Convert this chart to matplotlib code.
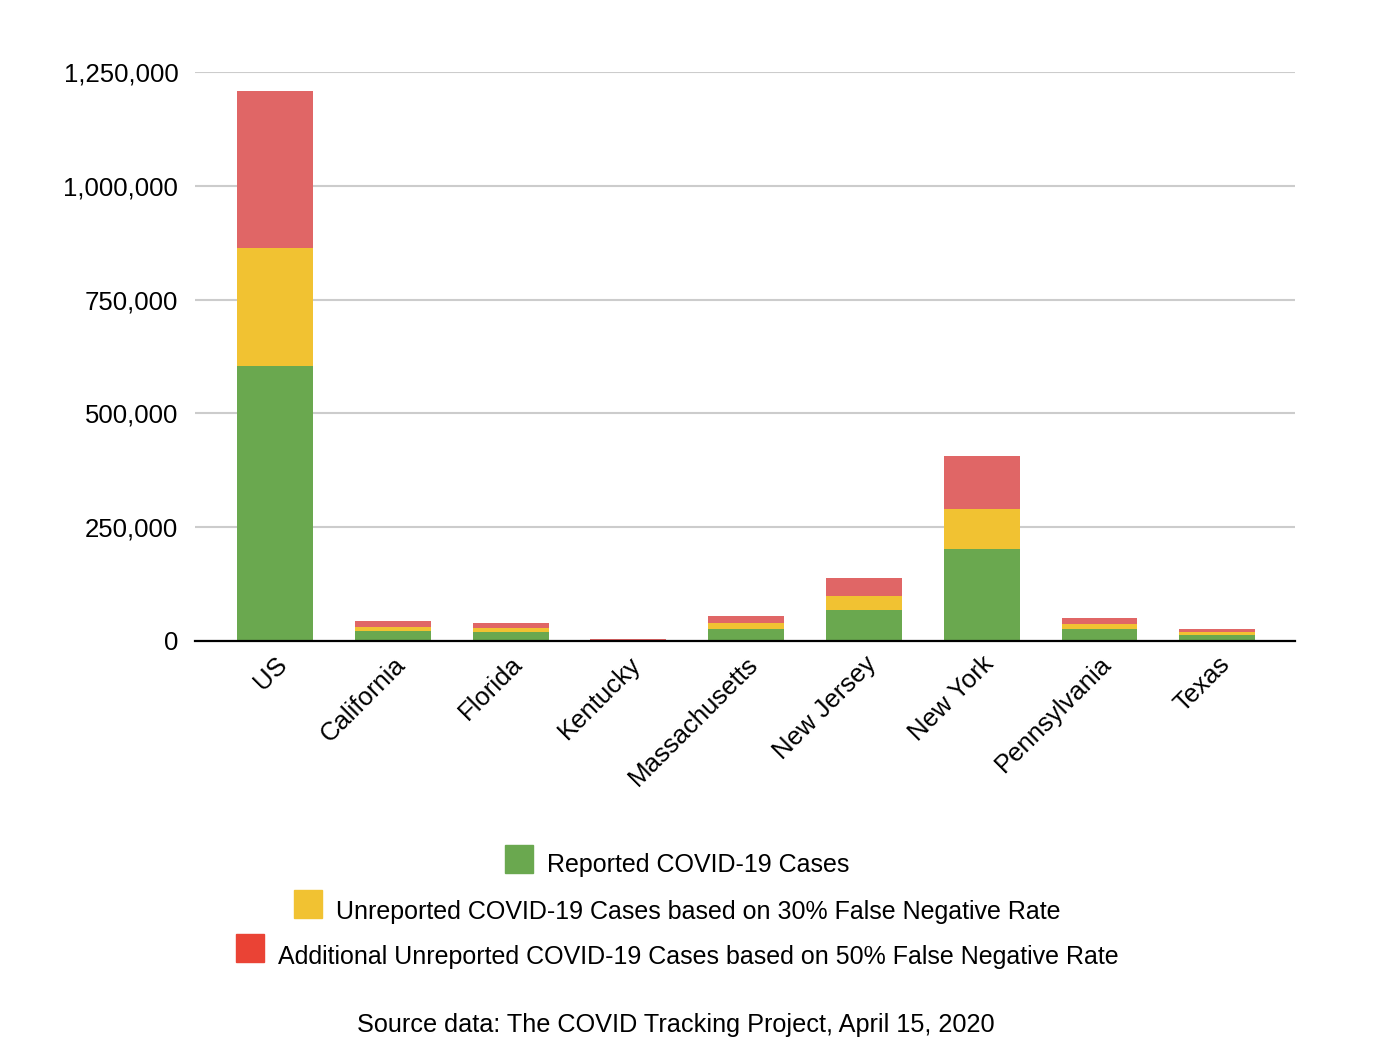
import matplotlib
matplotlib.use("Agg")
import matplotlib.pyplot as plt
import matplotlib.patches as mpatches
from matplotlib.ticker import FuncFormatter
import numpy as np

plt.rcParams['font.family'] = ['Liberation Sans', 'DejaVu Sans']

# values (cases, April 15 2020)
places = ["US", "California", "Florida", "Kentucky", "Massachusetts",
          "New Jersey", "New York", "Pennsylvania", "Texas"]
reported = [605000, 21500, 20000, 2200, 27000, 69000, 203000, 25500, 13500]
unrep_30 = [259000, 9200, 8600, 950, 11500, 29500, 87000, 10900, 5800]
unrep_50 = [345000, 12300, 11400, 1250, 15500, 39500, 116000, 14600, 7700]

labels = ["Reported COVID-19 Cases",
          "Unreported COVID-19 Cases based on 30% False Negative Rate",
          "Additional Unreported COVID-19 Cases based on 50% False Negative Rate"]

green = "#6aa84f"
yellow = "#f1c232"
red = "#e06666"

W, H = 1400, 1060
fig = plt.figure(figsize=(14, 10.6), dpi=100)
ax = fig.add_axes([0.1393, 0.3953, 0.7857, 0.5368])

x = np.arange(len(places))
w = 0.645
r = np.array(reported)
y30 = np.array(unrep_30)
y50 = np.array(unrep_50)
ax.bar(x, r, w, color=green, zorder=3)
ax.bar(x, y30, w, bottom=r, color=yellow, zorder=3)
ax.bar(x, y50, w, bottom=r + y30, color=red, zorder=3)

ax.set_ylim(0, 1250000)
ax.set_xlim(-0.68, 8.66)
ax.set_yticks(np.arange(0, 1250001, 250000))
ax.yaxis.set_major_formatter(FuncFormatter(lambda v, p: f"{int(v):,}"))
ax.grid(axis='y', color='#cccccc', linewidth=1.5, zorder=0)
for s in ['top', 'right', 'left']:
    ax.spines[s].set_visible(False)
ax.spines['bottom'].set_color('black')
ax.spines['bottom'].set_linewidth(1.6)
ax.spines['bottom'].set_zorder(4)
ax.tick_params(axis='both', length=0, labelsize=18.5)
ax.tick_params(axis='y', pad=12)
ax.tick_params(axis='x', pad=8)
ax.set_xticks(x)
ax.set_xticklabels(places, rotation=45, ha='right', va='top', rotation_mode='anchor')

# legend: one centered line per entry, square a bit above the text
renderer = fig.canvas.get_renderer()
rows = [(859, 865, green), (904, 912, yellow), (948, 957, "#ea4335")]
sq, gap, cx = 28, 14, 677
for (py, ty, c), lab in zip(rows, labels):
    t = fig.text(0, 1 - ty / H, lab, ha='left', va='center', fontsize=18)
    tw = t.get_window_extent(renderer).width
    left = cx - (sq + gap + tw) / 2
    t.set_x((left + sq + gap) / W)
    fig.patches.append(mpatches.Rectangle((left / W, 1 - (py + sq / 2) / H),
                                          sq / W, sq / H, color=c,
                                          transform=fig.transFigure, figure=fig))

fig.text(0.483, 0.033, "Source data: The COVID Tracking Project, April 15, 2020",
         ha='center', va='center', fontsize=18.2)

plt.savefig("out.png", dpi=100)
